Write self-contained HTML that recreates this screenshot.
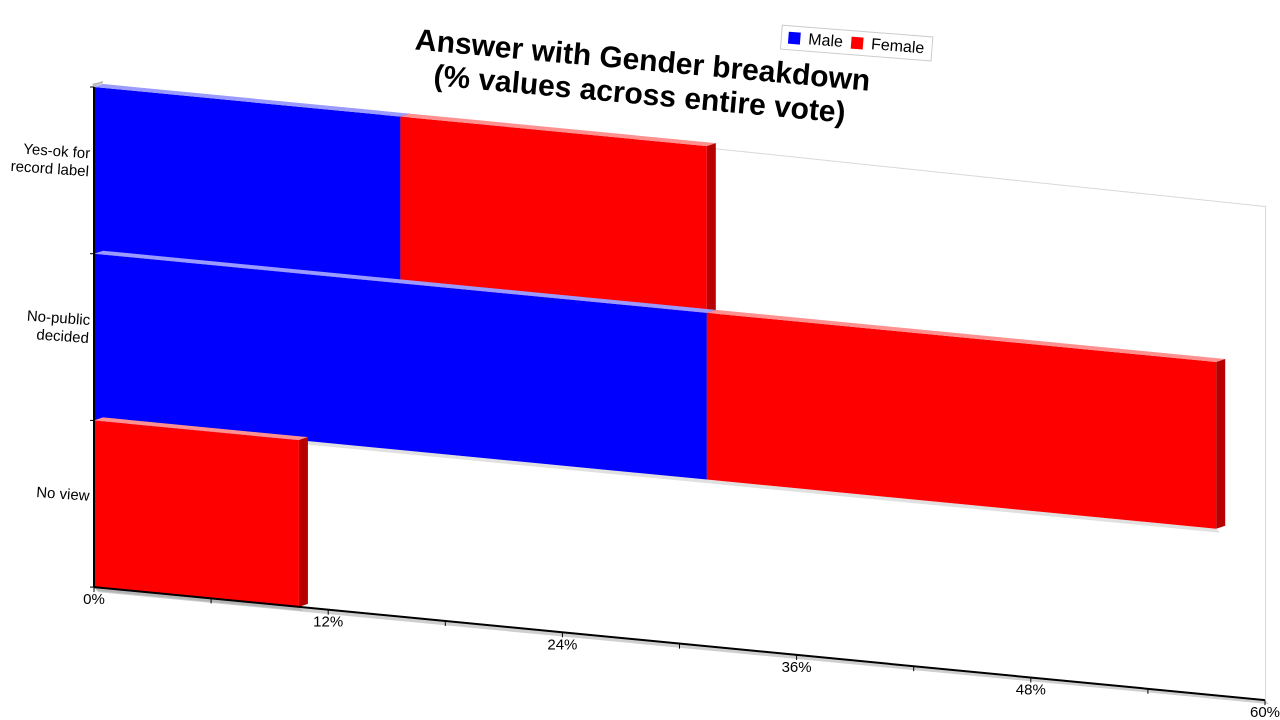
<!DOCTYPE html>
<html><head><meta charset="utf-8"><style>
body{margin:0;background:#fff;font-family:"Liberation Sans",sans-serif}
svg{display:block}
</style></head><body>
<svg width="1280" height="720" viewBox="0 0 1280 720">
<g id="title" transform="rotate(5.2 640 90)" font-weight="bold" font-size="30" text-anchor="middle" fill="#000">
<text x="640" y="70">Answer with Gender breakdown</text>
<text x="640" y="104">(% values across entire vote)</text>
</g>
<g transform="rotate(4.5 856 45)">
<rect x="781" y="31" width="151" height="24" fill="#fff" stroke="#ccc"/>
<rect x="788" y="37" width="12" height="12" fill="#0000ff"/>
<text x="808" y="48" font-size="16">Male</text>
<rect x="851" y="37" width="12" height="12" fill="#ff0000"/>
<text x="871" y="48" font-size="16">Female</text>
</g>
<g id="plot"></g>
<g id="labels"></g>
</svg>
<script>
const categories = ["Yes-ok for\nrecord label","No-public\ndecided","No view"];
const maleValues = [15.7, 31.4, 0];
const femaleValues = [15.7, 26.1, 10.5];
const tickLabels = ["0%","12%","24%","36%","48%","60%"];
const tickValues = [0,12,24,36,48,60];

const NS="http://www.w3.org/2000/svg";
const X0=94, X1=1265, VMAX=60, TOP=87, BAND=166.7, SLOPE=0.0965;
const xs=v=>X0+v/VMAX*(X1-X0);
const sk=(x,y)=>y+(x-X0)*SLOPE;
const plot=document.getElementById('plot');
const labels=document.getElementById('labels');
function poly(pts,fill,name,g){
 const p=document.createElementNS(NS,'polygon');
 p.setAttribute('points',pts.map(q=>q[0]+','+q[1]).join(' '));
 p.setAttribute('fill',fill);
 
 
 (g||plot).appendChild(p);return p;
}
const BOT=TOP+3*BAND;
// back wall line & floor
poly([[X0,TOP-4],[X1,sk(X1,TOP)+6],[X1,sk(X1,TOP)+7],[X0,TOP-3]],'#d8d8d8','back-wall-edge');
poly([[X1,sk(X1,TOP)+6],[X1+1,sk(X1,TOP)+6],[X1+1,sk(X1,BOT)],[X1,sk(X1,BOT)]],'#d8d8d8','right-wall-edge');
poly([[X0,BOT],[X1,sk(X1,BOT)],[X1+4,sk(X1,BOT)+4],[X0+4,BOT+5]],'#cfcfcf','floor');
poly([[X0-2,TOP-3],[X0+9,TOP-6],[X0+9,TOP-4],[X0,TOP]],'#bbb','axis-top-cap');
function bar(v0,v1,i,color,light,dark,name){
 if(v1<=v0)return;
 const xa=xs(v0),xb=xs(v1),yt=TOP+i*BAND,yb=yt+BAND;
 poly([[xa,sk(xa,yb)],[xb,sk(xb,yb)],[xb+4,sk(xb,yb)+4],[xa+4,sk(xa,yb)+4]],'rgba(0,0,0,0.12)',name+'-shadow');
 poly([[xa,sk(xa,yt)],[xb,sk(xb,yt)],[xb,sk(xb,yb)],[xa,sk(xa,yb)]],color,name);
 poly([[xa,sk(xa,yt)],[xb,sk(xb,yt)],[xb+9,sk(xb,yt)-3],[xa+9,sk(xa,yt)-3]],light,name+'-top');
 poly([[xb,sk(xb,yt)],[xb+9,sk(xb,yt)-3],[xb+9,sk(xb,yb)-3],[xb,sk(xb,yb)]],dark,name+'-side');
}
categories.forEach((c,i)=>{
 bar(0,maleValues[i],i,'#0000ff','#9a9aff','#0000b0','bar-male-'+i);
 bar(maleValues[i],maleValues[i]+femaleValues[i],i,'#ff0000','#ff9090','#b80000','bar-female-'+i);
});
// axes
poly([[X0-1,TOP],[X0+1,TOP],[X0+1,BOT],[X0-1,BOT]],'#000','y-axis-line');
poly([[X0,BOT-1],[X1,sk(X1,BOT)-1],[X1,sk(X1,BOT)+1],[X0,BOT+1]],'#000','x-axis-line');
for(let k=0;k<=3;k++){
 const y=TOP+k*BAND;
 poly([[X0-4,y-0.5],[X0,y-0.5],[X0,y+0.5],[X0-4,y+0.5]],'#000','y-tick');
}
for(let v=0;v<=VMAX;v+=6){
 const x=xs(v);
 poly([[x-0.5,sk(x,BOT)],[x+0.5,sk(x,BOT)],[x+0.5,sk(x,BOT)+5],[x-0.5,sk(x,BOT)+5]],'#000','x-tick');
}
tickValues.forEach((v,i)=>{
 const x=xs(v);
 const t=document.createElementNS(NS,'text');
 t.setAttribute('x',x);t.setAttribute('y',sk(x,BOT)+17);
 t.setAttribute('font-size','15');t.setAttribute('text-anchor','middle');
 t.textContent=tickLabels[i];
 
 
 labels.appendChild(t);
});
categories.forEach((c,i)=>{
 const lines=c.split('\n');
 const yc=TOP+(i+0.5)*BAND;
 lines.forEach((ln,j)=>{
  const t=document.createElementNS(NS,'text');
  t.setAttribute('x',89);
  t.setAttribute('y',yc-3+(j-(lines.length-1)/2)*18);
  t.setAttribute('font-size','15');t.setAttribute('text-anchor','end');
  t.setAttribute('transform','rotate(4 89 '+yc+')');
  t.textContent=ln;
  
  
  labels.appendChild(t);
 });
});
</script>
</body></html>
